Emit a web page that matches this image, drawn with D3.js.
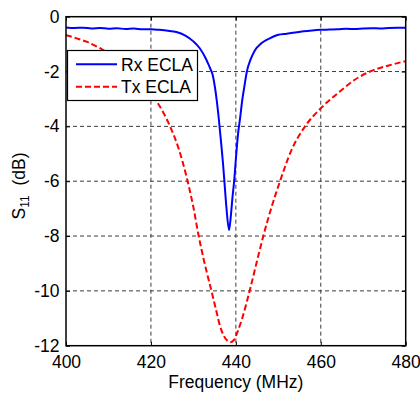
<!DOCTYPE html>
<html>
<head>
<meta charset="utf-8">
<script src="https://cdn.jsdelivr.net/npm/d3@7"></script>
<style>
html,body{margin:0;padding:0;background:#fff;}
svg{display:block;}
text{font-family:"Liberation Sans",Arial,sans-serif;}
</style>
</head>
<body>
<svg id="chart" width="420" height="394"></svg>
<script>
// ---- data ----
const xTicks = [400, 420, 440, 460, 480];
const yTicks = [0, -2, -4, -6, -8, -10, -12];
const seriesNames = ["Rx ECLA", "Tx ECLA"];

const rxFreq = [400, 402, 404, 406, 408, 410, 412, 414, 416, 418, 420, 422, 424, 426, 428, 430, 431.5, 433, 433.5, 434, 434.5, 435, 435.5, 436, 436.5, 437, 437.3, 437.8, 438.4, 438.8, 439.2, 439.6, 440, 440.5, 441, 441.5, 442, 442.6, 443.5, 444.5, 446, 448, 450, 452, 454, 456, 458, 460, 462, 464, 466, 468, 470, 472, 474, 476, 478, 480];
const rxS11 = [-0.39, -0.41, -0.40, -0.43, -0.41, -0.44, -0.42, -0.45, -0.43, -0.46, -0.46, -0.48, -0.51, -0.56, -0.68, -0.90, -1.15, -1.55, -1.72, -1.90, -2.1, -2.5, -3.05, -3.75, -4.55, -5.4, -6.0, -7.0, -7.78, -7.3, -6.6, -6.0, -5.2, -4.3, -3.7, -3.05, -2.55, -2.0, -1.55, -1.22, -0.97, -0.79, -0.66, -0.62, -0.58, -0.53, -0.50, -0.48, -0.47, -0.46, -0.44, -0.45, -0.43, -0.42, -0.43, -0.41, -0.40, -0.40];

const txFreq = [400, 402.5, 405, 408, 410, 412, 415, 418, 421.4, 424.5, 426.5, 428.4, 430, 431.2, 432.5, 434.3, 435.5, 436.3, 437.2, 438, 438.7, 439.5, 440.5, 441.5, 442.5, 443.3, 445, 446.5, 448.5, 450.4, 453, 456.3, 460, 464.5, 468, 471.6, 476, 480];
const txS11 = [-0.67, -0.79, -0.92, -1.15, -1.33, -1.58, -2.0, -2.5, -3.1, -4.0, -4.8, -5.85, -6.95, -7.96, -8.9, -10.03, -10.8, -11.3, -11.65, -11.82, -11.87, -11.8, -11.45, -11.0, -10.45, -9.97, -8.9, -7.98, -6.9, -6.0, -4.9, -4.0, -3.34, -2.73, -2.3, -2.0, -1.78, -1.62];

// ---- layout ----
const L = 66, R = 405.7, T = 16.7, B = 345.7;
const svg = d3.select("#chart");
const x = d3.scaleLinear().domain([400, 480]).range([L, R]);
const y = d3.scaleLinear().domain([-12, 0]).range([B, T]);
const fmt = d => String(d);
const FS = 17.5;

// grid
const grid = svg.append("g").attr("stroke", "#3a3a3a").attr("stroke-width", 1).attr("stroke-dasharray", "4,3");
grid.selectAll(".gx").data(xTicks.slice(1, -1)).enter().append("line")
  .attr("x1", d => x(d)).attr("x2", d => x(d)).attr("y1", T).attr("y2", B);
grid.selectAll(".gy").data(yTicks.slice(1, -1)).enter().append("line")
  .attr("x1", L).attr("x2", R).attr("y1", d => y(d)).attr("y2", d => y(d));

// lines
const line = (fx, fy) => d3.line().curve(d3.curveMonotoneX).x((d, i) => x(fx[i])).y((d, i) => y(fy[i]));
svg.append("path").datum(txS11).attr("d", line(txFreq, txS11))
  .attr("fill", "none").attr("stroke", "#ff0000").attr("stroke-width", 2).attr("stroke-dasharray", "6,3");
svg.append("path").datum(rxS11).attr("d", line(rxFreq, rxS11))
  .attr("fill", "none").attr("stroke", "#0000ff").attr("stroke-width", 2);

// axes
const axB = svg.append("g").attr("transform", `translate(0,${B})`)
  .call(d3.axisBottom(x).tickValues(xTicks).tickFormat(fmt).tickSizeInner(-4).tickSizeOuter(0).tickPadding(10));
const axL = svg.append("g").attr("transform", `translate(${L},0)`)
  .call(d3.axisLeft(y).tickValues(yTicks).tickFormat(fmt).tickSizeInner(-4).tickSizeOuter(0).tickPadding(6.5));
const axT = svg.append("g").attr("transform", `translate(0,${T})`)
  .call(d3.axisTop(x).tickValues(xTicks).tickFormat("").tickSizeInner(-4).tickSizeOuter(0));
const axR = svg.append("g").attr("transform", `translate(${R},0)`)
  .call(d3.axisRight(y).tickValues(yTicks).tickFormat("").tickSizeInner(-4).tickSizeOuter(0));
[axB, axL, axT, axR].forEach(a => {
  a.select(".domain").remove();
  a.selectAll("line").attr("stroke", "#000").attr("stroke-width", 1);
  a.selectAll("text").attr("font-size", FS).attr("fill", "#000").attr("font-family", "Liberation Sans, Arial, sans-serif");
});
axB.selectAll("text").attr("dy", "0.71em");
// frame
svg.append("rect").attr("x", L).attr("y", T).attr("width", R - L).attr("height", B - T)
  .attr("fill", "none").attr("stroke", "#000").attr("stroke-width", 1.5);

// axis labels
svg.append("text").attr("x", (L + R) / 2).attr("y", 388).attr("text-anchor", "middle")
  .attr("font-size", FS).text("Frequency (MHz)");
const yl = svg.append("text").attr("transform", "translate(25,186) rotate(-90)")
  .attr("text-anchor", "middle").attr("font-size", FS);
yl.append("tspan").text("S");
yl.append("tspan").attr("font-size", 12).attr("dy", 4).text("11");
yl.append("tspan").attr("dy", -4).text("\u00a0 (dB)");

// legend
const lg = svg.append("g");
lg.append("rect").attr("x", 67.5).attr("y", 50.5).attr("width", 130).attr("height", 50)
  .attr("fill", "#fff").attr("stroke", "#000").attr("stroke-width", 1.2);
const legY = [64.3, 86.7];
const legStyle = [{c: "#0000ff", dash: null}, {c: "#ff0000", dash: "6,3"}];
seriesNames.forEach((n, i) => {
  lg.append("line").attr("x1", 76).attr("x2", 117).attr("y1", legY[i]).attr("y2", legY[i])
    .attr("stroke", legStyle[i].c).attr("stroke-width", 2).attr("stroke-dasharray", legStyle[i].dash);
  lg.append("text").attr("x", 121).attr("y", legY[i] + 6.5).attr("font-size", FS).text(n);
});
</script>
</body>
</html>
